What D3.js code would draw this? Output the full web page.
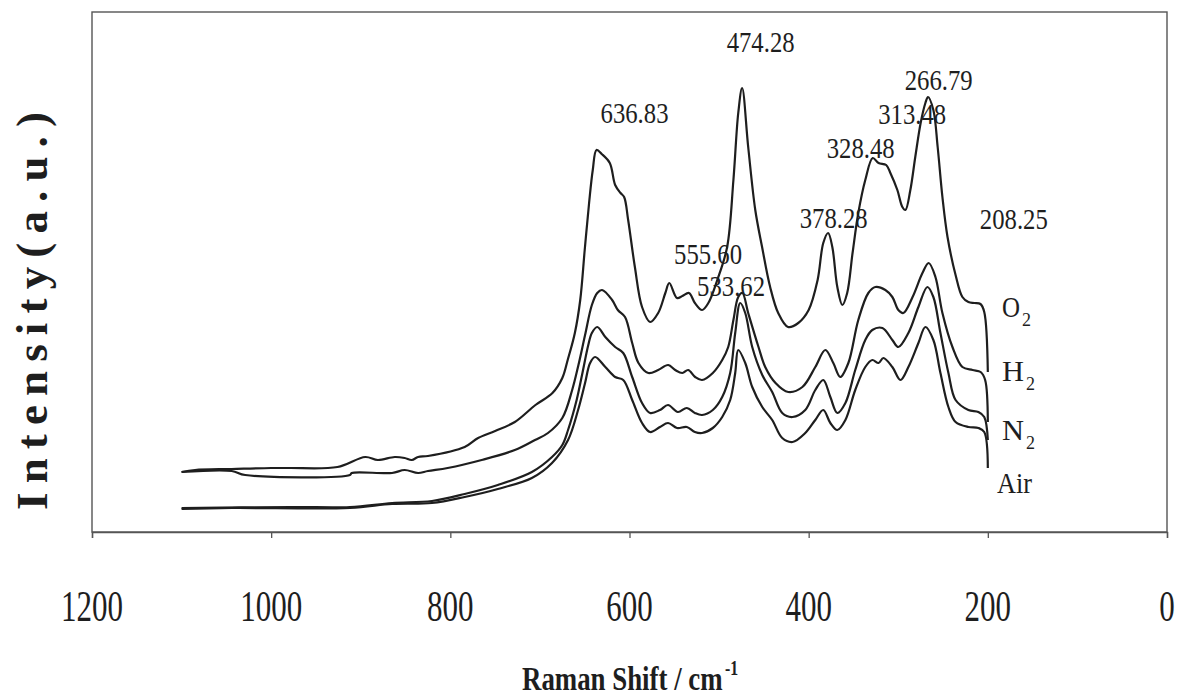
<!DOCTYPE html>
<html>
<head>
<meta charset="utf-8">
<script src="https://cdn.jsdelivr.net/npm/d3@7"></script>
<style>
  html, body { margin: 0; padding: 0; background: #fff; }
  svg { display: block; }
</style>
</head>
<body>
<svg id="chart" width="1181" height="698"></svg>
<script>
// Raman spectra of the catalyst after treatment in four gases (offset stack).
// Each series: [Raman shift (cm-1), intensity (a.u.)]
const o2Spectrum = [
  [1100,60],[1085,62],[1044,63],[1000,64],[979,64],[926,65],[895,75],[881,72],[862,75],[851,74],
  [843,72],[836,75],[825,76],[784,85],[769,94],[750,101],[728,110],[705,127],[686,139],[675,154],
  [669,172],[661,199],[655,232],[650,282],[645,330],[641,362],[636.83,382],[631,378],[622,369],[616,347],
  [610,339],[606,335],[601.5,312],[594,265],[586,225],[577,210],[568,219],[560,239],[555.6,249],[547,234],
  [541,236],[533.62,239],[527,229],[519,222],[512,229],[502,252],[491,285],[484,352],[478.6,419],[474.28,444],
  [467.5,385],[459.6,322],[452,285],[443,245],[434,219],[423,205],[411.6,209],[400,222],[390,252],[383.7,289],
  [378.28,299],[373.6,285],[368,245],[362.4,227],[357,239],[351,279],[344.6,319],[336.8,352],[328.48,374],[322,369],
  [313.48,367],[308.8,359],[301,342],[295.4,325],[292,322],[286.5,342],[281,375],[275,409],[269.7,429],[266.79,435],
  [260.8,422],[256,385],[250.7,335],[245,295],[236,257],[228.4,235],[221.7,230],[215,229],[208.25,228],[204,220],
  [200,160]
];
const h2Spectrum = [
  [1100,60],[1044,61],[1029,57],[912,57],[910,59],[865,59],[851,62],[836,59],[825,61],[803,64],
  [765,72],[728,82],[705.5,92],[691,99],[675,114],[664,142],[657,167],[649.6,197],[642,227],[636,239],
  [630.6,242],[619.4,232],[613,222],[605,215],[597,189],[590,169],[579,159],[568,162],[556.8,167],[549,162],
  [541,159],[534.5,162],[526.7,155],[519,152],[507,159],[496.5,172],[489.8,185],[484,212],[478.6,235],[474,239],
  [467.5,219],[456,185],[448.5,165],[437,149],[422.8,140],[407,145],[392.6,165],[381.4,182],[372.5,169],[364.7,155],
  [355.7,169],[344.6,212],[333.4,239],[325.6,245],[314.4,242],[306.6,235],[299.9,222],[294.3,219],[284,235],[273,259],
  [266,269],[258.5,255],[250.7,219],[239.5,185],[228.4,165],[217,162],[208,160],[203,152],[200,110]
];
const n2Spectrum = [
  [1100,24],[977,25],[912,25],[865,29],[820.5,31],[784,38],[747,47],[709,60],[686.5,75],[675,87],
  [668.6,102],[659,132],[653,157],[646,187],[642,199],[636,205],[627,195],[616,185],[607,179],[597,155],
  [586,129],[577,119],[566,122],[557,127],[546,120],[536,124],[527,119],[519,117],[507,122],[496.5,135],
  [487.6,159],[482,199],[476.4,229],[470.8,219],[463,185],[451.8,157],[440.7,140],[429.5,119],[418,115],[403.8,122],
  [392.6,142],[383.7,152],[375.8,135],[368,119],[359,129],[348,162],[336.8,192],[329,202],[317.7,204],[306.6,192],
  [299.9,185],[288.7,199],[277.5,225],[267.5,245],[260.8,235],[252.9,199],[244,159],[236,132],[221.7,122],[210.5,120],
  [204,115],[200,92]
];
const airSpectrum = [
  [1100,23],[1044,24],[912,24],[865,28],[820.5,29],[784,35],[747,43],[709,54],[686.5,69],[668.6,92],
  [657.4,122],[649.6,149],[644,169],[638.4,175],[627,165],[616,155],[607,152],[597,132],[586,109],[577,100],
  [566,105],[557,109],[547,104],[536,105],[527,100],[519,99],[507,104],[496.5,115],[487.6,132],[482,159],
  [478.6,182],[470.8,169],[463,145],[451.8,125],[440.7,112],[429.5,94],[418,90],[403.8,99],[392.6,112],[383.7,122],
  [375.8,109],[368,102],[359,112],[348,142],[336.8,165],[329,172],[322,169],[316.6,174],[306.6,165],[297.6,152],
  [288.7,165],[277.5,189],[269.7,205],[260.8,192],[252.9,159],[244,125],[236,110],[221.7,105],[210.5,104],[204,100],
  [200,64]
];

const shiftTicks = [1200, 1000, 800, 600, 400, 200, 0];

// Peak annotations: label text and the (shift, intensity) spot where it is written
const peakLabels = ["636.83", "474.28", "555.60", "533.62", "378.28", "328.48", "313.48", "266.79", "208.25"];
const peakLabelShift = [594.4, 453.6, 512.3, 486.6, 372.1, 341.9, 284.4, 254.8, 171];
const peakLabelLevel = [409, 480, 268, 236, 304, 374, 408, 442, 303];

// Series names written at the right-hand end of each trace
const seriesGas = ["O", "H", "N", "Air"];
const seriesSub = ["2", "2", "2", ""];
const seriesLabelLevel = [215, 151, 92, 39];

const svg = d3.select("#chart");
const plot = { left: 92, right: 1167, top: 12, bottom: 532 };

const x = d3.scaleLinear().domain([1200, 0]).range([plot.left, plot.right]);
const y = d3.scaleLinear().domain([0, 520]).range([plot.bottom, plot.top]);

const ink = "#1e1e1e";
const serif = "'Liberation Serif', 'Times New Roman', serif";

// Frame (top, left, right) drawn as a box; bottom edge is the x axis
svg.append("rect")
  .attr("x", plot.left).attr("y", plot.top)
  .attr("width", plot.right - plot.left).attr("height", plot.bottom - plot.top)
  .attr("fill", "none").attr("stroke", "#555").attr("stroke-width", 1.4);

// X axis with outward ticks
const xAxis = d3.axisBottom(x).tickValues(shiftTicks).tickSize(6).tickFormat("");
const gx = svg.append("g").attr("transform", `translate(0,${plot.bottom})`).call(xAxis);
gx.select(".domain").attr("stroke", "#555").attr("stroke-width", 1.4);
gx.selectAll(".tick line").attr("stroke", "#555").attr("stroke-width", 1.3);

// Helper: serif text fitted to an exact drawn width
function label(parent, str, px, py, size, width, opts = {}) {
  const t = parent.append("text")
    .attr("x", px).attr("y", py)
    .attr("font-family", serif)
    .attr("font-size", size)
    .attr("font-weight", opts.weight || "normal")
    .attr("fill", ink)
    .text(str);
  if (width) t.attr("textLength", width).attr("lengthAdjust", opts.adjust || "spacingAndGlyphs");
  return t;
}

// Tick labels
const tickWidth = d => String(d).length * 15.5;
shiftTicks.forEach(v => {
  const w = tickWidth(v);
  label(svg, String(v), x(v) - w / 2, 621, 44, w);
});

// X axis title (condensed bold serif, superscript exponent in the same text)
const xTitle = svg.append("text")
  .attr("transform", "translate(522,690) scale(0.79,1)")
  .attr("font-family", serif)
  .attr("font-size", 34)
  .attr("font-weight", "bold")
  .attr("fill", ink);
xTitle.append("tspan").text("Raman Shift / cm");
xTitle.append("tspan").attr("dx", 3).attr("dy", -15).attr("font-size", 20).text("-1");

// Y axis title, letter-spaced
const yTitle = svg.append("g").attr("transform", "translate(47,510) rotate(-90)");
label(yTitle, "Intensity(a.u.)", 0, 0, 45, 398, { weight: "bold", adjust: "spacing" });

// Spectra
const line = d3.line()
  .x(d => x(d[0]))
  .y(d => y(d[1]))
  .curve(d3.curveCatmullRom.alpha(0.5));

[o2Spectrum, h2Spectrum, n2Spectrum, airSpectrum].forEach(s => {
  svg.append("path")
    .datum(s)
    .attr("d", line)
    .attr("fill", "none")
    .attr("stroke", ink)
    .attr("stroke-width", 2.2)
    .attr("stroke-linejoin", "round");
});

// Peak position labels
peakLabels.forEach((txt, i) => {
  const w = 68;
  label(svg, txt, x(peakLabelShift[i]) - w / 2, y(peakLabelLevel[i]), 29.5, w);
});

// Gas labels at the right end
seriesGas.forEach((g, i) => {
  const bx = 1002 - (g === "Air" ? 5 : 0);
  const by = y(seriesLabelLevel[i]);
  const w = g === "Air" ? 35 : (g === "O" ? 18 : 22);
  label(svg, g, bx, by, 30, w);
  if (seriesSub[i]) label(svg, seriesSub[i], bx + w + 2, by + 9, 19, 9);
});
</script>
</body>
</html>
